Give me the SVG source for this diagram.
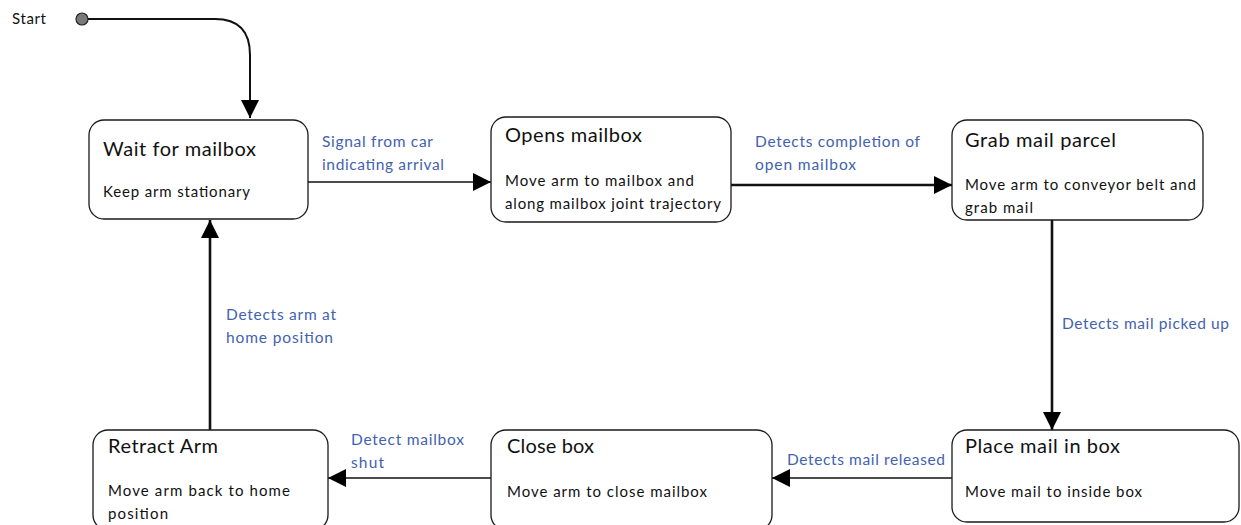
<svg xmlns="http://www.w3.org/2000/svg" width="1241" height="525" viewBox="0 0 1241 525">
  <style>
    text { font-family: "Lato", "Open Sans", "Liberation Sans", sans-serif; }
    .box { fill: #ffffff; stroke: #1a1a1a; stroke-width: 1.3; }
    .title { font-size: 20px; fill: #111111; }
    .body { font-size: 15px; fill: #111111; }
    .lbl { font-size: 15.5px; fill: #4262b0; }
    .thin { fill: none; stroke: #111111; stroke-width: 1.3; }
    .thick { fill: none; stroke: #111111; stroke-width: 2.6; }
  </style>
  <defs>
    <marker id="tri" viewBox="0 0 10 10" refX="10" refY="5" markerUnits="userSpaceOnUse" markerWidth="18" markerHeight="18" orient="auto">
      <path d="M0,0 L10,5 L0,10 Z" fill="#000000"/>
    </marker>
  </defs>

  <rect width="1241" height="525" fill="#ffffff"/>

  <!-- start marker -->
  <g id="start">
    <text x="12" y="24" class="body" textLength="34">Start</text>
    <circle cx="82" cy="19" r="6" fill="#7a7a7a" stroke="#222222" stroke-width="1.2"/>
  </g>

  <!-- connectors -->
  <g id="connectors">
    <path class="thin" d="M88,19 H215 Q250,19 250,55 V118" style="stroke-width:2" marker-end="url(#tri)"/>
    <path class="thin" d="M308,182 H491" marker-end="url(#tri)"/>
    <path class="thick" d="M731,185 H952" marker-end="url(#tri)"/>
    <path class="thick" d="M1052,220 V430" marker-end="url(#tri)"/>
    <path class="thin" d="M952,478 H772" marker-end="url(#tri)"/>
    <path class="thin" d="M491,478 H328" marker-end="url(#tri)"/>
    <path class="thick" d="M210,430 V220" marker-end="url(#tri)"/>

    <text class="lbl" x="322" y="147" textLength="111">Signal from car</text>
    <text class="lbl" x="322" y="170" textLength="122">indicating arrival</text>
    <text class="lbl" x="755" y="147" textLength="165">Detects completion of</text>
    <text class="lbl" x="755" y="170" textLength="101">open mailbox</text>
    <text class="lbl" x="1062" y="329" textLength="167">Detects mail picked up</text>
    <text class="lbl" x="787" y="465" textLength="158">Detects mail released</text>
    <text class="lbl" x="351" y="445" textLength="113">Detect mailbox</text>
    <text class="lbl" x="351" y="468" textLength="33">shut</text>
    <text class="lbl" x="226" y="320" textLength="110">Detects arm at</text>
    <text class="lbl" x="226" y="343" textLength="107">home position</text>
  </g>

  <!-- states -->
  <g id="wait">
    <rect class="box" x="89" y="120" width="219" height="99" rx="15"/>
    <text class="title" x="103" y="156" textLength="153">Wait for mailbox</text>
    <text class="body" x="103" y="197" textLength="147">Keep arm stationary</text>
  </g>

  <g id="opens">
    <rect class="box" x="491" y="117" width="240" height="105" rx="15"/>
    <text class="title" x="505" y="142" textLength="137">Opens mailbox</text>
    <text class="body" x="505" y="186" textLength="189">Move arm to mailbox and</text>
    <text class="body" x="505" y="209" textLength="216">along mailbox joint trajectory</text>
  </g>

  <g id="grab">
    <rect class="box" x="952" y="120" width="251" height="100" rx="15"/>
    <text class="title" x="965" y="147" textLength="151">Grab mail parcel</text>
    <text class="body" x="965" y="190" textLength="231">Move arm to conveyor belt and</text>
    <text class="body" x="965" y="213" textLength="68">grab mail</text>
  </g>

  <g id="place">
    <rect class="box" x="952" y="430" width="287" height="92" rx="15"/>
    <text class="title" x="965" y="453" textLength="155">Place mail in box</text>
    <text class="body" x="965" y="497" textLength="177">Move mail to inside box</text>
  </g>

  <g id="close">
    <rect class="box" x="491" y="430" width="281" height="100" rx="15"/>
    <text class="title" x="507" y="453" textLength="87">Close box</text>
    <text class="body" x="507" y="497" textLength="200">Move arm to close mailbox</text>
  </g>

  <g id="retract">
    <rect class="box" x="93" y="430" width="235" height="100" rx="15"/>
    <text class="title" x="108" y="453" textLength="110">Retract Arm</text>
    <text class="body" x="108" y="496" textLength="182">Move arm back to home</text>
    <text class="body" x="108" y="519" textLength="60">position</text>
  </g>
</svg>
